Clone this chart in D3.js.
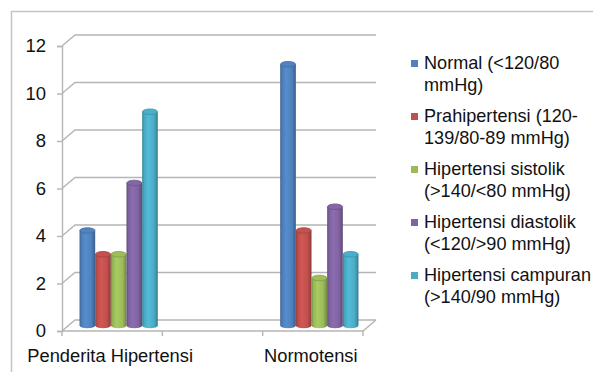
<!DOCTYPE html>
<html>
<head>
<meta charset="utf-8">
<script src="https://cdn.jsdelivr.net/npm/d3@7/dist/d3.min.js"></script>
<style>
  html, body { margin: 0; padding: 0; background: #fff; }
  svg { display: block; }
  text { font-family: "Liberation Sans", Arial, sans-serif; fill: #111; }
</style>
</head>
<body>
<svg id="chart" width="593" height="372"></svg>
<script>
// Categories along the floor (the middle slot is an empty spacer category)
const categories = ["Penderita Hipertensi", "", "Normotensi"];

// Series names and their values per category
const seriesNames = [
  "Normal (<120/80 mmHg)",
  "Prahipertensi (120-139/80-89 mmHg)",
  "Hipertensi sistolik (>140/<80 mmHg)",
  "Hipertensi diastolik (<120/>90 mmHg)",
  "Hipertensi campuran (>140/90 mmHg)"
];
const normal      = [4, null, 11];
const prahiper    = [3, null, 4];
const sistolik    = [3, null, 2];
const diastolik   = [6, null, 5];
const campuran    = [9, null, 3];
const seriesValues = [normal, prahiper, sistolik, diastolik, campuran];

// Legend text, wrapped as two lines per entry
const legendLines = [
  ["Normal (<120/80", "mmHg)"],
  ["Prahipertensi (120-", "139/80-89 mmHg)"],
  ["Hipertensi sistolik", "(>140/<80 mmHg)"],
  ["Hipertensi diastolik", "(<120/>90 mmHg)"],
  ["Hipertensi campuran", "(>140/90 mmHg)"]
];
const colors = ["#4F81BD", "#C0504D", "#9BBB59", "#8064A2", "#4BACC6"];

const yTicks = [0, 2, 4, 6, 8, 10, 12];

const svg = d3.select("#chart");

// Outer frame of the chart area
svg.append("path")
  .attr("d", "M11.5,372 V11.5 H593")
  .attr("fill", "none").attr("stroke", "#c4c4c4").attr("stroke-width", 1.5);

// Plot geometry: front plane plus an oblique depth offset
const x0 = 62, x1 = 363;
const depth = { dx: 13, dy: -11 };
const x = d3.scaleBand().domain(categories).range([x0, x1]);
const y = d3.scaleLinear().domain([0, 12]).range([331, 46]);
const inner = d3.scaleBand().domain(d3.range(seriesNames.length))
  .range([0, x.bandwidth()]).paddingInner(0).paddingOuter(0.705);

const grid = svg.append("g").attr("fill", "none")
  .attr("stroke", "#b5b5b5").attr("stroke-width", 1.4);

// Back-wall gridlines with their diagonal connectors on the side wall
yTicks.forEach(t => {
  const yf = y(t);
  grid.append("path")
    .attr("d", `M${x0},${yf} L${x0 + depth.dx},${yf + depth.dy} H${x1 + depth.dx}`);
});
// Floor front edge and right edge
grid.append("path")
  .attr("d", `M${x0},${y(0)} H${x1} L${x1 + depth.dx},${y(0) + depth.dy}`);

// Y axis (front vertical edge) with ticks
const yAxis = d3.axisLeft(y).tickValues(yTicks).tickSize(5).tickPadding(11);
const gy = svg.append("g").attr("transform", `translate(${x0},0)`).call(yAxis);
gy.select(".domain").attr("stroke", "#b5b5b5").attr("stroke-width", 1.4);
gy.selectAll(".tick line").attr("stroke", "#b5b5b5").attr("stroke-width", 1.4);
gy.selectAll(".tick text").attr("font-size", 18.5).attr("fill", "#111")
  .style("font-family", "'Liberation Sans', Arial, sans-serif");

// X axis category ticks at band boundaries
const bounds = categories.map(c => x(c)).concat([x1]);
svg.append("g").selectAll("line").data(bounds).join("line")
  .attr("x1", d => d).attr("x2", d => d)
  .attr("y1", y(0)).attr("y2", y(0) + 5)
  .attr("stroke", "#b5b5b5").attr("stroke-width", 1.4);

svg.append("g").selectAll("text").data(categories).join("text")
  .attr("x", d => x(d) + x.bandwidth() / 2 - 2)
  .attr("y", 355)
  .attr("text-anchor", "middle")
  .attr("dominant-baseline", "central")
  .attr("font-size", 18.3)
  .text(d => d);

// Cylinder shading gradients, one per series
const defs = svg.append("defs");
colors.forEach((c, i) => {
  const base = d3.color(c);
  const g = defs.append("linearGradient").attr("id", "cyl" + i)
    .attr("x1", "0%").attr("x2", "100%").attr("y1", "0%").attr("y2", "0%");
  g.append("stop").attr("offset", "0%").attr("stop-color", base.darker(0.8));
  g.append("stop").attr("offset", "12%").attr("stop-color", base.darker(0.1));
  g.append("stop").attr("offset", "38%").attr("stop-color", base.brighter(0.25));
  g.append("stop").attr("offset", "75%").attr("stop-color", base);
  g.append("stop").attr("offset", "100%").attr("stop-color", base.darker(0.9));
});

// Bars drawn as cylinders sitting at mid depth
const mid = { dx: depth.dx / 2, dy: depth.dy / 2 };
const ry = 2.8;
const bars = svg.append("g");
seriesValues.forEach((vals, si) => {
  vals.forEach((v, ci) => {
    if (v == null) return;
    const left = x(categories[ci]) + inner(si) + mid.dx;
    const w = inner.bandwidth();
    const rx = w / 2;
    const cx = left + rx;
    const yb = y(0) + mid.dy;
    const yt = y(v) + mid.dy;
    const body = `M${left},${yt} V${yb} A${rx},${ry} 0 0 0 ${left + w},${yb} V${yt} Z`;
    bars.append("path").attr("d", body).attr("fill", `url(#cyl${si})`);
    bars.append("ellipse")
      .attr("cx", cx).attr("cy", yt).attr("rx", rx - 0.3).attr("ry", ry)
      .attr("fill", d3.color(colors[si]).brighter(0.05))
      .attr("stroke", d3.color(colors[si]).darker(0.5)).attr("stroke-width", 0.8);
  });
});

// Legend
const legend = svg.append("g");
const legY0 = 63, legStep = 53, lineH = 22;
legendLines.forEach((lines, i) => {
  const cy = legY0 + i * legStep;
  legend.append("rect")
    .attr("x", 411).attr("y", cy - 3).attr("width", 7).attr("height", 7)
    .attr("fill", colors[i]);
  lines.forEach((ln, j) => {
    legend.append("text")
      .attr("x", 424).attr("y", cy + j * lineH)
      .attr("dominant-baseline", "central")
      .attr("font-size", 18.1)
      .text(ln);
  });
});
</script>
</body>
</html>
